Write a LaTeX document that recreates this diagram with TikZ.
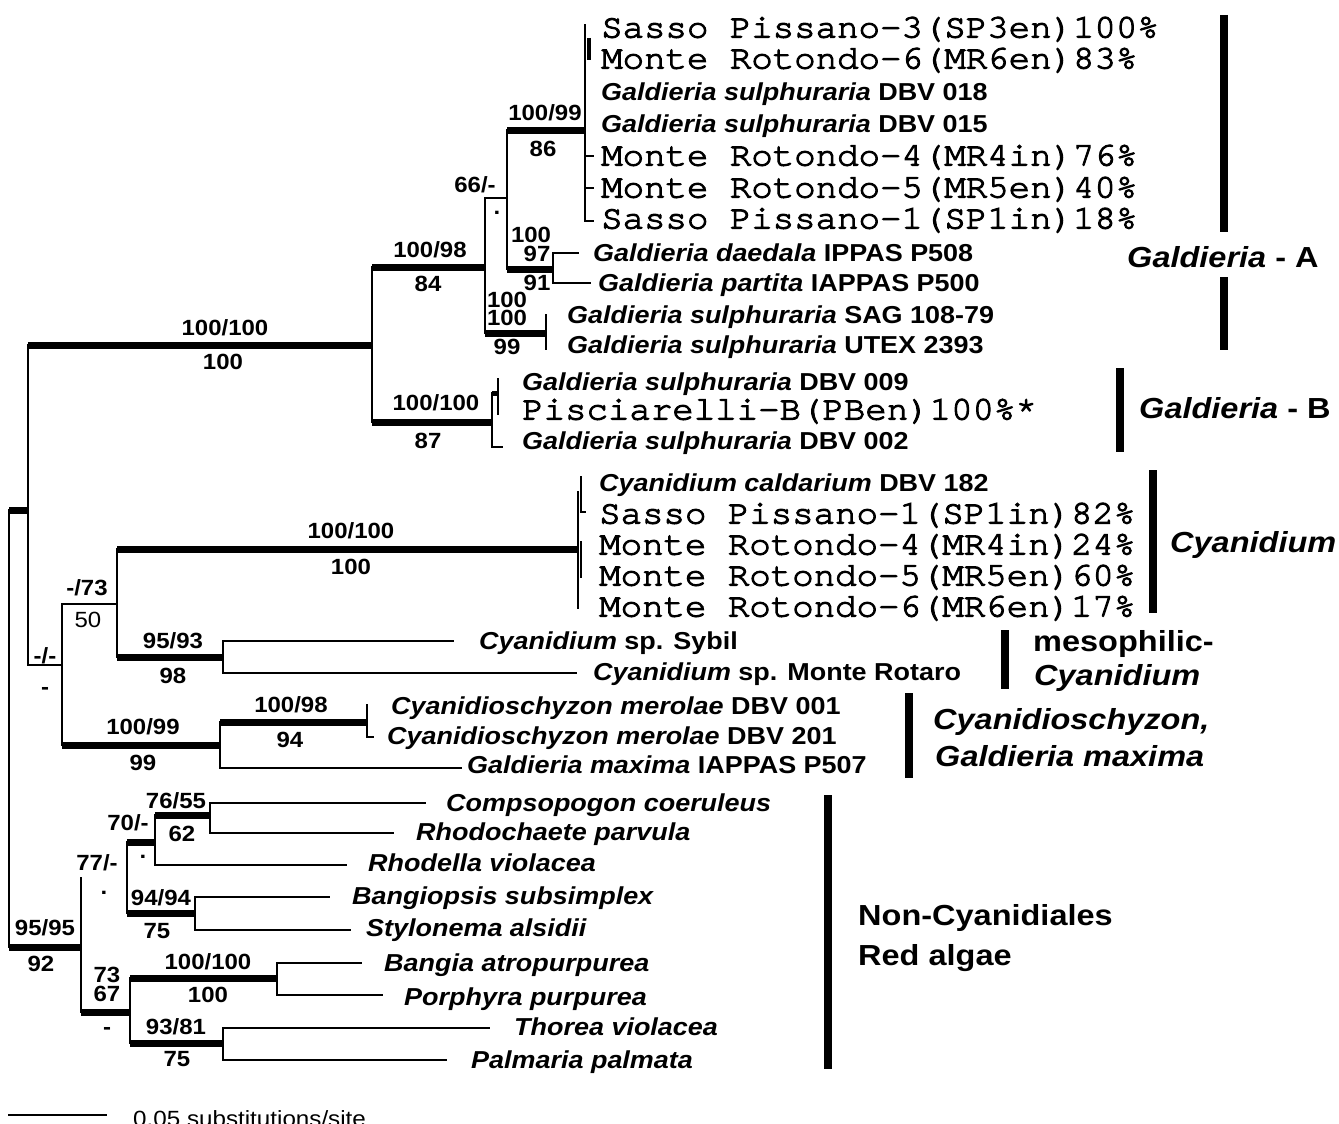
\documentclass[tikz,border=0pt]{standalone}
\usepackage{fontspec}
\setmainfont{Liberation Sans}
\newfontfamily\cour[FakeBold=3]{texgyrecursor-regular.otf}
\begin{document}
\begin{tikzpicture}[x=1pt,y=-1pt,
  thn/.style={line width=2.5pt,line cap=rect},
  thk/.style={line width=7pt},
  bar/.style={line width=8.5pt},
  bs/.style={inner sep=0pt,xscale=1.09,font=\fontsize{22}{24}\selectfont\bfseries},
  tp/.style={anchor=base west,inner sep=0pt,xscale=1.1,font=\fontsize{24.5}{28}\selectfont\bfseries},
  mn/.style={anchor=base west,inner sep=0pt,xscale=1.067,font=\cour\fontsize{33.5}{38}\selectfont},
  cl/.style={anchor=base west,inner sep=0pt,xscale=1.12,font=\fontsize{29}{33}\selectfont\bfseries}]
\clip (0,0) rectangle (1339,1124);
% ---------- internal nodes
\coordinate (R) at (9,728);
\coordinate (A) at (28,510);
\coordinate (G) at (372,345);
\coordinate (GA) at (485,267);
\coordinate (G66) at (507,198);
\coordinate (G99) at (585,130);
\coordinate (Gdp) at (553,269);
\coordinate (Gsu) at (546,333);
\coordinate (GB) at (492,422);
\coordinate (GBs) at (498,393);
\coordinate (C) at (62,665);
\coordinate (C73) at (117,604);
\coordinate (Cy) at (578,549);
\coordinate (Cys1) at (581,492);
\coordinate (Cys2) at (581,560);
\coordinate (Cm) at (223,657);
\coordinate (Cz) at (220,745);
\coordinate (Czm) at (367,722);
\coordinate (N) at (81,947);
\coordinate (N77) at (127,878);
\coordinate (N70) at (155,842);
\coordinate (N76) at (210,815);
\coordinate (N94) at (195,913);
\coordinate (N73) at (130,1012);
\coordinate (N100) at (277,978);
\coordinate (N93) at (223,1043);
% ---------- tip ends
\coordinate (t1) at (585,25);
\coordinate (t2a) at (589,38);
\coordinate (t2b) at (589,60);
\coordinate (t5) at (593,156);
\coordinate (t6) at (593,188);
\coordinate (t7) at (593,221);
\coordinate (t8) at (578,253);
\coordinate (t9) at (590,283);
\coordinate (t10) at (546,315);
\coordinate (t11) at (546,349);
\coordinate (t12) at (498,379);
\coordinate (t13) at (498,414);
\coordinate (t14) at (502,447);
\coordinate (c1) at (581,477);
\coordinate (c2) at (585,512);
\coordinate (c3) at (581,542);
\coordinate (c4) at (581,577);
\coordinate (c5) at (578,608);
\coordinate (m1) at (453,641);
\coordinate (m2) at (576,673);
\coordinate (z1) at (367,705);
\coordinate (z2) at (373,737);
\coordinate (z3) at (461,768);
\coordinate (n1) at (425,803);
\coordinate (n2) at (393,833);
\coordinate (n3) at (346,865);
\coordinate (n4) at (329,897);
\coordinate (n5) at (350,930);
\coordinate (n6) at (361,963);
\coordinate (n7) at (382,995);
\coordinate (n8) at (489,1028);
\coordinate (n9) at (446,1060);
% ---------- verticals
\draw[thn] (R|-A) -- (R|-N);
\draw[thn] (A|-G) -- (A|-C);
\draw[thn] (G|-GA) -- (G|-GB);
\draw[thn] (GA|-G66) -- (GA|-Gsu);
\draw[thn] (G66|-G99) -- (G66|-Gdp);
\draw[thn] (G99|-t1) -- (G99|-t7);
\draw[line width=3.5pt] (t2a) -- (t2b);
\draw[thn] (Gdp|-t8) -- (Gdp|-t9);
\draw[thn] (Gsu|-t10) -- (Gsu|-t11);
\draw[thn] (GB|-GBs) -- (GB|-t14);
\draw[thn] (GBs|-t12) -- (GBs|-t13);
\draw[thn] (C|-C73) -- (C|-Cz);
\draw[thn] (C73|-Cy) -- (C73|-Cm);
\draw[thn] (Cy|-Cys1) -- (Cy|-c5);
\draw[thn] (Cys1|-c1) -- (Cys1|-c2);
\draw[thn] (Cys2|-c3) -- (Cys2|-c4);
\draw[thn] (Cm|-m1) -- (Cm|-m2);
\draw[thn] (Cz|-Czm) -- (Cz|-z3);
\draw[thn] (Czm|-z1) -- (Czm|-z2);
\draw[thn] (N|-N77) -- (N|-N73);
\draw[thn] (N77|-N70) -- (N77|-N94);
\draw[thn] (N70|-N76) -- (N70|-n3);
\draw[thn] (N76|-n1) -- (N76|-n2);
\draw[thn] (N94|-n4) -- (N94|-n5);
\draw[thn] (N73|-N100) -- (N73|-N93);
\draw[thn] (N100|-n6) -- (N100|-n7);
\draw[thn] (N93|-n8) -- (N93|-n9);
% ---------- thick branches
\draw[thk] (R|-A) -- (A);
\draw[thk] (A|-G) -- (G);
\draw[thk] (G|-GA) -- (GA);
\draw[thk] (G66|-G99) -- (G99);
\draw[thk] (G66|-Gdp) -- (Gdp);
\draw[thk] (GA|-Gsu) -- (Gsu);
\draw[thk] (G|-GB) -- (GB);
\draw[line width=5pt] (GB|-GBs) -- (GBs);
\draw[thk] (C73|-Cy) -- (Cy);
\draw[thk] (C73|-Cm) -- (Cm);
\draw[thk] (C|-Cz) -- (Cz);
\draw[thk] (Cz|-Czm) -- (Czm);
\draw[thk] (R|-N) -- (N);
\draw[thk] (N77|-N70) -- (N70);
\draw[thk] (N70|-N76) -- (N76);
\draw[thk] (N77|-N94) -- (N94);
\draw[thk] (N|-N73) -- (N73);
\draw[thk] (N73|-N100) -- (N100);
\draw[thk] (N73|-N93) -- (N93);
% ---------- thin branches
\draw[thn] (GA|-G66) -- (G66);
\draw[thn] (A|-C) -- (C);
\draw[thn] (C|-C73) -- (C73);
\draw[thn] (G99|-t5) -- (t5);
\draw[thn] (G99|-t6) -- (t6);
\draw[thn] (G99|-t7) -- (t7);
\draw[thn] (Gdp|-t8) -- (t8);
\draw[thn] (Gdp|-t9) -- (t9);
\draw[thn] (GB|-t14) -- (t14);
\draw[thn] (Cys1|-c2) -- (c2);
\draw[thn] (Cm|-m1) -- (m1);
\draw[thn] (Cm|-m2) -- (m2);
\draw[thn] (Czm|-z2) -- (z2);
\draw[thn] (Cz|-z3) -- (z3);
\draw[thn] (N76|-n1) -- (n1);
\draw[thn] (N76|-n2) -- (n2);
\draw[thn] (N70|-n3) -- (n3);
\draw[thn] (N94|-n4) -- (n4);
\draw[thn] (N94|-n5) -- (n5);
\draw[thn] (N100|-n6) -- (n6);
\draw[thn] (N100|-n7) -- (n7);
\draw[thn] (N93|-n8) -- (n8);
\draw[thn] (N93|-n9) -- (n9);
% ---------- tip labels
\node[mn] (L1) at (601,37.5) {Sasso Pissano-3(SP3en)100\%};
\node[mn] (L2) at (601,68.5) {Monte Rotondo-6(MR6en)83\%};
\node[tp] (L3) at (601,100.5) {\itshape Galdieria sulphuraria\upshape{} DBV 018};
\node[tp] (L4) at (601,132.5) {\itshape Galdieria sulphuraria\upshape{} DBV 015};
\node[mn] (L5) at (601,165.5) {Monte Rotondo-4(MR4in)76\%};
\node[mn] (L6) at (601,197.5) {Monte Rotondo-5(MR5en)40\%};
\node[mn] (L7) at (601,228.5) {Sasso Pissano-1(SP1in)18\%};
\node[tp] (L8) at (593,261.5) {\itshape Galdieria daedala\upshape{} IPPAS P508};
\node[tp] (L9) at (598,291.5) {\itshape Galdieria partita\upshape{} IAPPAS P500};
\node[tp] (L10) at (567,323.5) {\itshape Galdieria sulphuraria\upshape{} SAG 108-79};
\node[tp] (L11) at (567,353.5) {\itshape Galdieria sulphuraria\upshape{} UTEX 2393};
\node[tp] (L12) at (522,390.5) {\itshape Galdieria sulphuraria\upshape{} DBV 009};
\node[mn] (L13) at (522,419.5) {Pisciarelli-B(PBen)100\%*};
\node[tp] (L14) at (522,449.5) {\itshape Galdieria sulphuraria\upshape{} DBV 002};
\node[tp] (L15) at (599,491.5) {\itshape Cyanidium caldarium\upshape{} DBV 182};
\node[mn] (L16) at (599,523.5) {Sasso Pissano-1(SP1in)82\%};
\node[mn] (L17) at (599,554.5) {Monte Rotondo-4(MR4in)24\%};
\node[mn] (L18) at (599,585.5) {Monte Rotondo-5(MR5en)60\%};
\node[mn] (L19) at (599,616.5) {Monte Rotondo-6(MR6en)17\%};
\node[tp] (L20) at (479,649.5) {\itshape Cyanidium\upshape{} sp. Sybil};
\node[tp] (L21) at (593,680.5) {\itshape Cyanidium\upshape{} sp. Monte Rotaro};
\node[tp] (L22) at (391,714.5) {\itshape Cyanidioschyzon merolae\upshape{} DBV 001};
\node[tp] (L23) at (387,744.5) {\itshape Cyanidioschyzon merolae\upshape{} DBV 201};
\node[tp] (L24) at (467,773.5) {\itshape Galdieria maxima\upshape{} IAPPAS P507};
\node[tp] (L25) at (446,811.5) {\itshape Compsopogon coeruleus};
\node[tp] (L26) at (416,840.5) {\itshape Rhodochaete parvula};
\node[tp] (L27) at (368,871.5) {\itshape Rhodella violacea};
\node[tp] (L28) at (352,904.5) {\itshape Bangiopsis subsimplex};
\node[tp] (L29) at (366,936.5) {\itshape Stylonema alsidii};
\node[tp] (L30) at (384,971.5) {\itshape Bangia atropurpurea};
\node[tp] (L31) at (404,1005.5) {\itshape Porphyra purpurea};
\node[tp] (L32) at (514,1035.5) {\itshape Thorea violacea};
\node[tp] (L33) at (471,1068.5) {\itshape Palmaria palmata};
% ---------- support values
\node[bs] (s1) at (225,328) {100/100};
\node[bs] (s2) at (223,362) {100};
\node[bs] (s3) at (430,250) {100/98};
\node[bs] (s4) at (428,284) {84};
\node[bs] (s5) at (475,185) {66/-};
\node[bs] (s6) at (497,213) {.};
\node[bs] (s7) at (545,113) {100/99};
\node[bs] (s8) at (543,149) {86};
\node[bs] (s9) at (531,235) {100};
\node[bs] (s10) at (537,254) {97};
\node[bs] (s11) at (537,283) {91};
\node[bs] (s12) at (507,299.5) {100};
\node[bs] (s13) at (507,318) {100};
\node[bs] (s14) at (507,347) {99};
\node[bs] (s15) at (436,403) {100/100};
\node[bs] (s16) at (428,441) {87};
\node[bs] (s17) at (351,531) {100/100};
\node[bs] (s18) at (351,567) {100};
\node[bs] (s19) at (87,588) {-/73};
\node[bs,font=\fontsize{22}{24}\selectfont] (s20) at (88,620) {50};
\node[bs] (s21) at (45,656) {-/-};
\node[bs] (s22) at (45,691) {-};
\node[bs] (s23) at (173,641) {95/93};
\node[bs] (s24) at (173,676) {98};
\node[bs] (s25) at (291,705) {100/98};
\node[bs] (s26) at (290,740) {94};
\node[bs] (s27) at (143,727) {100/99};
\node[bs] (s28) at (143,763) {99};
\node[bs] (s29) at (176,801) {76/55};
\node[bs] (s30) at (182,834) {62};
\node[bs] (s31) at (128,823) {70/-};
\node[bs] (s32) at (143,857) {.};
\node[bs] (s33) at (97,863) {77/-};
\node[bs] (s34) at (104,893) {.};
\node[bs] (s35) at (161,898) {94/94};
\node[bs] (s36) at (157,931) {75};
\node[bs] (s37) at (45,928) {95/95};
\node[bs] (s38) at (41,964) {92};
\node[bs] (s39) at (208,962) {100/100};
\node[bs] (s40) at (208,995) {100};
\node[bs] (s41) at (107,975) {73};
\node[bs] (s42) at (107,994) {67};
\node[bs] (s43) at (107,1031) {-};
\node[bs] (s44) at (176,1027) {93/81};
\node[bs] (s45) at (177,1059) {75};
% ---------- clade bars and names
\draw[bar] (1224,15) -- (1224,232);
\draw[bar] (1224,277) -- (1224,350);
\node[cl] (K1) at (1127,267.5) {\itshape Galdieria\upshape{} - A};
\draw[bar] (1120,368) -- (1120,452);
\node[cl] (K2) at (1139,418.5) {\itshape Galdieria\upshape{} - B};
\draw[bar] (1153,470) -- (1153,613);
\node[cl] (K3) at (1170,552.5) {\itshape Cyanidium};
\draw[bar] (1005,630) -- (1005,689);
\node[cl] (K4) at (1033,651) {mesophilic-};
\node[cl] (K5) at (1034,685) {\itshape Cyanidium};
\draw[bar] (909,693) -- (909,778);
\node[cl] (K6) at (933,729) {\itshape Cyanidioschyzon,};
\node[cl] (K7) at (935,766) {\itshape Galdieria maxima};
\draw[bar] (828,795) -- (828,1069);
\node[cl] (K8) at (858,925.5) {Non-Cyanidiales};
\node[cl] (K9) at (858,965.5) {Red algae};
% ---------- scale bar
\coordinate (sb1) at (8,1115);
\coordinate (sb2) at (107,1115);
\draw[thn,line cap=butt] (sb1) -- (sb2);
\node[anchor=base west,inner sep=0pt,xscale=1.1,font=\fontsize{22}{24}\selectfont] (sbt) at (133,1126) {0.05 substitutions/site};
\end{tikzpicture}
\end{document}
